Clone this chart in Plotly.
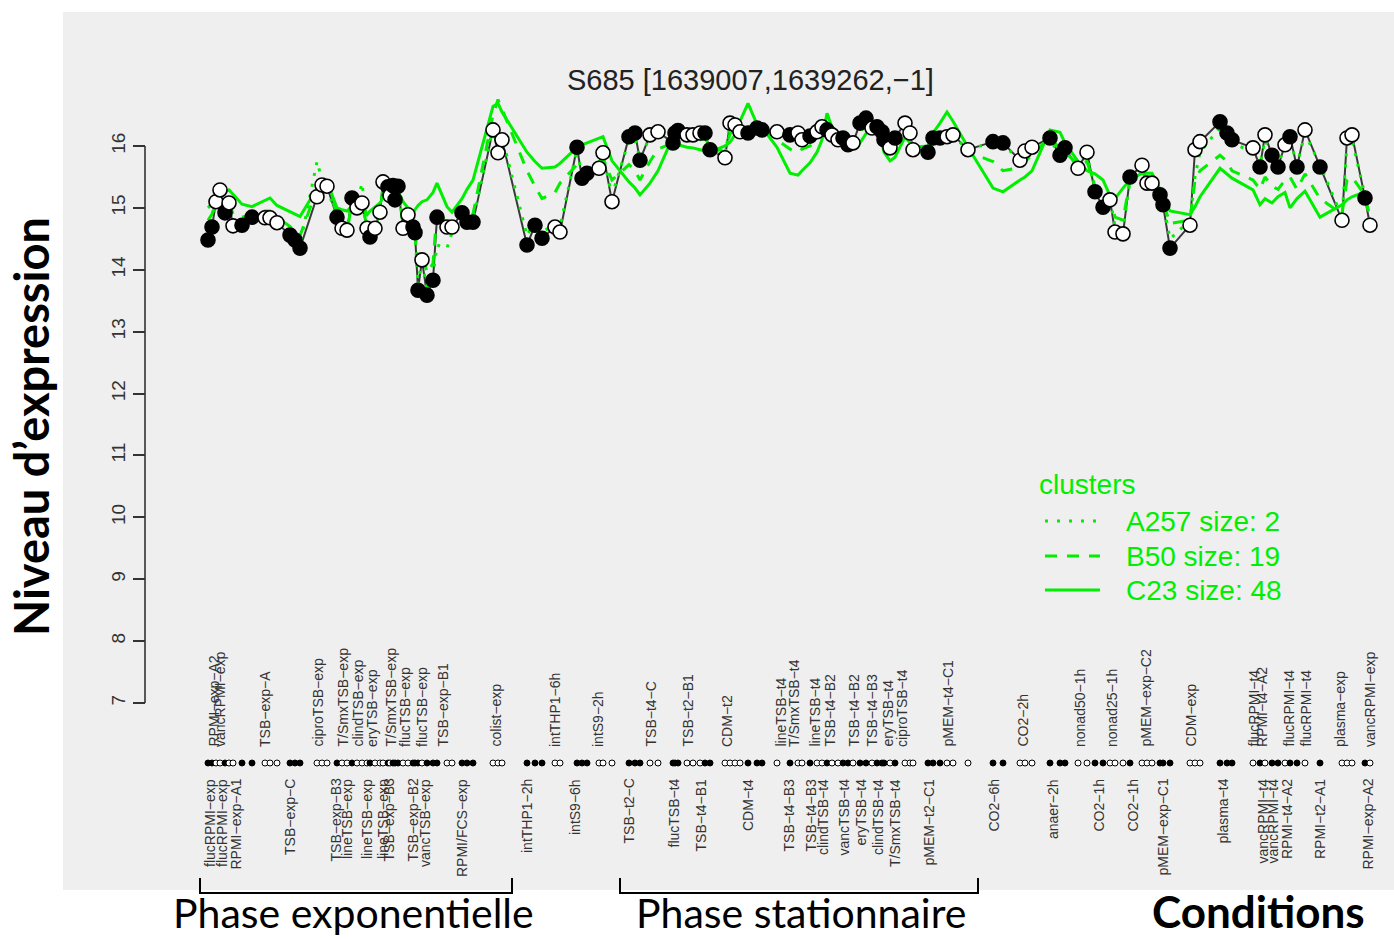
import plotly.graph_objects as go

# ---------------- data ----------------
# position of each sample along the condition axis
sample_pos = [
    208, 212, 216, 220, 225, 229, 233, 242, 252, 265, 270, 277, 290, 295, 300,
    317, 322, 327,
    337, 342, 347, 352, 357, 362, 367, 370, 375, 380, 383, 388, 390, 393, 395, 398,
    403, 408, 413, 415, 418, 422, 427, 433, 437, 447, 452, 462, 467, 473,
    493, 498, 502,
    527, 535, 542, 555, 560,
    577, 582, 587, 599, 603, 612,
    629, 635, 640, 650, 658,
    673, 675, 678, 687, 693, 700, 705, 710, 725, 730, 735, 740, 748, 757, 762,
    777, 790, 798, 802, 810, 817, 822, 827, 832, 838, 843, 848, 853, 860, 866,
    872, 877, 882, 884, 890, 895, 905, 910, 913, 928, 933, 940, 947, 953, 968,
    993, 1003, 1020, 1025, 1032,
    1050, 1060, 1065, 1078, 1087,
    1095, 1103, 1110, 1115, 1123, 1130, 1142, 1147, 1152, 1160, 1163, 1170,
    1190, 1195, 1200,
    1220, 1227, 1232,
    1253, 1260, 1265, 1272, 1278, 1285, 1290, 1297, 1305, 1320,
    1342, 1347, 1352, 1365, 1370,
]

# expression level of S685 per sample
expr = [
    14.48, 14.69, 15.10, 15.29, 14.92, 15.08, 14.71, 14.72, 14.85, 14.84, 14.84, 14.76, 14.56, 14.48, 14.35,
    15.18, 15.37, 15.35,
    14.85, 14.67, 14.64, 15.16, 15.00, 15.08, 14.67, 14.53, 14.67, 14.93, 15.42, 15.34, 15.20, 15.36, 15.13, 15.35,
    14.67, 14.89, 14.69, 14.60, 13.67, 14.16, 13.59, 13.83, 14.85, 14.69, 14.69, 14.92, 14.77, 14.77,
    16.26, 15.89, 16.10,
    14.40, 14.72, 14.51, 14.69, 14.61,
    15.98, 15.48, 15.56, 15.64, 15.89, 15.10,
    16.15, 16.21, 15.77, 16.18, 16.23,
    16.05, 16.21, 16.25, 16.18, 16.18, 16.21, 16.21, 15.94, 15.81, 16.37, 16.34, 16.23, 16.21, 16.29, 16.26,
    16.23, 16.18, 16.21, 16.10, 16.16, 16.23, 16.31, 16.26, 16.18, 16.10, 16.13, 16.02, 16.05, 16.37, 16.45,
    16.29, 16.31, 16.23, 16.10, 15.97, 16.13, 16.37, 16.21, 15.94, 15.90, 16.13, 16.13, 16.15, 16.18, 15.94,
    16.07, 16.05, 15.77, 15.92, 15.98,
    16.13, 15.85, 15.97, 15.64, 15.90,
    15.26, 15.01, 15.13, 14.61, 14.58, 15.50, 15.69, 15.40, 15.40, 15.21, 15.05, 14.35,
    14.72, 15.94, 16.07,
    16.39, 16.21, 16.10,
    15.97, 15.66, 16.18, 15.85, 15.66, 16.02, 16.15, 15.66, 16.26, 15.66,
    14.80, 16.13, 16.18, 15.16, 14.72,
]

# 1 = filled (black) point, 0 = open (white) point
filled = [
    1, 1, 0, 0, 1, 0, 0, 1, 1, 0, 0, 0, 1, 1, 1,
    0, 0, 0,
    1, 0, 0, 1, 0, 0, 0, 1, 0, 0, 0, 1, 0, 1, 1, 1,
    0, 0, 1, 1, 1, 0, 1, 1, 1, 0, 0, 1, 1, 1,
    0, 0, 0,
    1, 1, 1, 0, 0,
    1, 1, 1, 0, 0, 0,
    1, 1, 1, 0, 0,
    1, 1, 1, 0, 0, 0, 1, 1, 0, 0, 0, 0, 1, 1, 1,
    0, 1, 0, 0, 1, 0, 0, 1, 0, 0, 1, 1, 0, 1, 1,
    0, 1, 1, 1, 0, 1, 0, 0, 0, 1, 1, 1, 0, 0, 0,
    1, 1, 0, 0, 0,
    1, 1, 1, 0, 0,
    1, 1, 0, 0, 0, 1, 0, 0, 0, 1, 1, 1,
    0, 0, 0,
    1, 1, 1,
    0, 1, 0, 1, 1, 0, 1, 1, 0, 1,
    0, 0, 0, 1, 0,
]

# cluster profiles
c23 = [
    15.00, 15.07, 15.14, 15.20, 15.26, 15.29, 15.22, 15.06, 15.02, 15.12, 15.16, 15.04, 14.93, 14.90, 14.86,
    15.30, 15.45, 15.42,
    15.00, 14.97, 14.95, 15.03, 15.10, 15.00, 14.89, 14.95, 15.02, 15.08, 15.16, 15.24, 15.26, 15.28, 15.29, 15.27,
    15.10, 15.00, 14.92, 14.97, 15.04, 15.10, 15.13, 15.25, 15.40, 15.02, 14.93, 15.15, 15.30, 15.45,
    16.64, 16.69, 16.55,
    15.90, 15.75, 15.64, 15.66, 15.72,
    15.98, 16.02, 16.05, 16.12, 16.15, 15.76,
    15.42, 15.32, 15.21, 15.40, 15.60,
    16.15, 16.10, 16.02, 15.98, 15.97, 15.94, 15.92, 15.90, 16.00, 16.06, 16.18, 16.40, 16.69, 16.35, 16.30,
    15.98, 15.56, 15.53, 15.60, 15.73, 15.90, 16.10, 16.53, 16.30, 16.22, 16.18, 16.14, 16.10, 16.05, 16.20,
    16.35, 16.30, 16.05, 15.90, 15.76, 15.82, 16.15, 16.05, 15.98, 16.00, 16.21, 16.37, 16.55, 16.40, 15.98,
    15.32, 15.26, 15.45, 15.50, 15.60,
    16.26, 16.22, 16.05, 15.75, 15.60,
    15.55, 15.45, 15.20, 15.15, 15.32, 15.45, 15.56, 15.56, 15.56, 15.30, 15.15, 14.95,
    14.89, 15.02, 15.18,
    15.64, 15.55, 15.48,
    15.29, 15.05, 15.15, 15.08, 15.18, 15.25, 15.00, 15.15, 15.27, 14.85,
    15.05, 15.13, 15.18, 15.26, 15.20,
]

b50 = [
    14.80, 14.90, 15.10, 15.20, 15.05, 15.10, 14.90, 14.85, 14.90, 14.95, 14.95, 14.85, 14.70, 14.65, 14.55,
    15.30, 15.45, 15.40,
    14.90, 14.70, 14.60, 15.10, 15.00, 15.05, 14.70, 14.55, 14.70, 14.95, 15.35, 15.30, 15.20, 15.30, 15.15, 15.30,
    14.75, 14.90, 14.75, 14.70, 14.00, 14.30, 13.95, 14.10, 14.95, 14.75, 14.70, 14.95, 14.85, 14.90,
    16.50, 16.75, 16.60,
    15.60, 15.35, 15.15, 15.25, 15.40,
    15.70, 15.55, 15.60, 15.75, 15.80, 15.45,
    15.70, 15.60, 15.45, 15.75, 15.95,
    16.05, 16.10, 16.15, 16.10, 16.10, 16.10, 16.12, 16.00, 15.90, 16.20, 16.25, 16.25, 16.30, 16.35, 16.30,
    16.10, 15.95, 15.90, 15.95, 16.00, 16.10, 16.20, 16.30, 16.15, 16.10, 16.05, 16.00, 16.00, 16.25, 16.30,
    16.20, 16.20, 16.10, 16.00, 15.90, 16.00, 16.25, 16.15, 15.95, 15.90, 16.05, 16.10, 16.20, 16.15, 15.90,
    15.75, 15.60, 15.65, 15.75, 15.85,
    16.15, 15.95, 15.90, 15.70, 15.75,
    15.35, 15.15, 15.15, 14.85, 14.80, 15.45, 15.60, 15.45, 15.40, 15.25, 15.10, 14.75,
    14.80, 15.45, 15.60,
    15.85, 15.75, 15.60,
    15.45, 15.30, 15.50, 15.35, 15.30, 15.45, 15.50, 15.30, 15.55, 15.15,
    14.90, 15.45, 15.50, 15.20, 14.85,
]

a257 = [
    14.60, 14.75, 15.15, 15.25, 14.95, 15.05, 14.75, 14.65, 14.80, 14.85, 14.80, 14.75, 14.60, 14.50, 14.40,
    15.75, 15.45, 15.35,
    14.80, 14.65, 14.65, 15.20, 15.05, 15.40, 14.75, 14.55, 14.65, 14.95, 15.40, 15.35, 15.20, 15.35, 15.15, 15.30,
    14.70, 14.90, 14.70, 14.60, 13.75, 14.20, 13.65, 13.90, 14.40, 14.35, 14.60, 14.90, 14.80, 14.80,
    16.30, 15.95, 16.15,
    14.55, 14.80, 14.60, 14.75, 14.70,
    15.95, 15.50, 15.60, 15.65, 15.85, 15.20,
    16.10, 16.10, 15.80, 16.15, 16.20,
    16.05, 16.20, 16.20, 16.15, 16.15, 16.20, 16.20, 15.95, 15.85, 16.35, 16.30, 16.25, 16.20, 16.30, 16.25,
    16.20, 16.15, 16.15, 16.10, 16.15, 16.20, 16.30, 16.25, 16.15, 16.10, 16.10, 16.00, 16.05, 16.35, 16.40,
    16.30, 16.30, 16.20, 16.10, 15.95, 16.10, 16.35, 16.20, 15.95, 15.90, 16.10, 16.10, 16.15, 16.15, 15.95,
    16.05, 16.00, 15.80, 15.90, 15.95,
    16.10, 15.85, 15.95, 15.65, 15.85,
    15.30, 15.05, 15.15, 14.70, 14.65, 15.45, 15.65, 15.40, 15.40, 15.25, 15.10, 14.50,
    14.80, 15.50, 15.90,
    16.30, 16.15, 16.05,
    15.90, 15.70, 16.10, 15.85, 15.70, 16.00, 16.10, 15.70, 16.20, 15.70,
    14.85, 16.05, 16.10, 15.20, 14.80,
]

# condition labels (above and below the sample strip)
top_labels = [
    "RPMI\u2212exp\u2212A2", "vancRPMI\u2212exp", "TSB\u2212exp\u2212A", "ciproTSB\u2212exp",
    "T/SmxTSB\u2212exp", "clindTSB\u2212exp", "eryTSB\u2212exp", "T/SmxTSB\u2212exp",
    "flucTSB\u2212exp", "flucTSB\u2212exp", "TSB\u2212exp\u2212B1", "colist\u2212exp",
    "intTHP1\u22126h", "intS9\u22122h", "TSB\u2212t4\u2212C", "TSB\u2212t2\u2212B1", "CDM\u2212t2",
    "lineTSB\u2212t4", "T/SmxTSB\u2212t4", "lineTSB\u2212t4", "TSB\u2212t4\u2212B2", "TSB\u2212t4\u2212B2",
    "TSB\u2212t4\u2212B3", "eryTSB\u2212t4", "ciproTSB\u2212t4", "pMEM\u2212t4\u2212C1", "CO2\u22122h",
    "nonad50\u22121h", "nonad25\u22121h", "pMEM\u2212exp\u2212C2", "CDM\u2212exp", "flucRPMI\u2212t4",
    "RPMI\u2212t4\u2212A2", "flucRPMI\u2212t4", "flucRPMI\u2212t4", "plasma\u2212exp", "vancRPMI\u2212exp",
]
top_pos = [
    213, 220, 265, 317, 342, 357, 372, 390, 405, 422, 442, 495,
    555, 598, 650, 687, 727, 780, 794, 814, 829, 853, 871, 887, 902, 947, 1022,
    1080, 1112, 1145, 1190, 1253, 1262, 1288, 1305, 1340, 1370,
]
bottom_labels = [
    "flucRPMI\u2212exp", "flucRPMI\u2212exp", "RPMI\u2212exp\u2212A1", "TSB\u2212exp\u2212C",
    "TSB\u2212exp\u2212B3", "lineTSB\u2212exp", "lineTSB\u2212exp", "lineTSB\u2212exp",
    "TSB\u2212exp\u2212B3", "TSB\u2212exp\u2212B2", "vancTSB\u2212exp", "RPMI/FCS\u2212exp",
    "intTHP1\u22122h", "intS9\u22126h", "TSB\u2212t2\u2212C", "flucTSB\u2212t4", "TSB\u2212t4\u2212B1",
    "CDM\u2212t4", "TSB\u2212t4\u2212B3", "TSB\u2212t4\u2212B3", "clindTSB\u2212t4", "vancTSB\u2212t4",
    "eryTSB\u2212t4", "clindTSB\u2212t4", "T/SmxTSB\u2212t4", "pMEM\u2212t2\u2212C1", "CO2\u22126h",
    "anaer\u22122h", "CO2\u22121h", "CO2\u22121h", "pMEM\u2212exp\u2212C1", "plasma\u2212t4",
    "vancRPMI\u2212t4", "vancRPMI\u2212t4", "RPMI\u2212t4\u2212A2", "RPMI\u2212t2\u2212A1", "RPMI\u2212exp\u2212A2",
]
bottom_pos = [
    210, 222, 235, 290, 335, 347, 367, 383, 388, 412, 425, 462,
    527, 575, 628, 673, 700, 748, 788, 810, 823, 843, 860, 878, 895, 928, 993,
    1053, 1098, 1132, 1162, 1222, 1262, 1272, 1287, 1320, 1367,
]

cluster_names = ["A257 size: 2", "B50 size: 19", "C23 size: 48"]
y_ticks = [7, 8, 9, 10, 11, 12, 13, 14, 15, 16]

# ---------------- layout helpers ----------------
W, H = 1394, 940
PL, PR, PT, PB = 63, 1394, 12, 890        # panel edges in px
Y16_PX, Y7_PX = 146, 703                   # pixel rows of ticks 16 and 7
UNIT = (Y7_PX - Y16_PX) / 9.0
Y_LO = 16 - (PB - Y16_PX) / UNIT
Y_HI = 16 + (Y16_PX - PT) / UNIT
ROW_Y = 16 - (763 - Y16_PX) / UNIT


def px_x(p):
    return (p - PL) / (PR - PL)


def px_y(p):
    return (PB - p) / (PB - PT)


GREEN = "#00ee00"
LABEL_FONT = dict(family="Liberation Sans, Arial, sans-serif", size=14, color="#333333")

fig = go.Figure()

# connecting line of the probe
fig.add_trace(go.Scatter(x=sample_pos, y=expr, mode="lines",
                         line=dict(color="#3a3a3a", width=2), hoverinfo="skip"))
# cluster profiles
fig.add_trace(go.Scatter(x=sample_pos, y=c23, mode="lines",
                         line=dict(color=GREEN, width=3), hoverinfo="skip"))
fig.add_trace(go.Scatter(x=sample_pos, y=b50, mode="lines",
                         line=dict(color=GREEN, width=3, dash="12px,10px"), hoverinfo="skip"))
fig.add_trace(go.Scatter(x=sample_pos, y=a257, mode="lines",
                         line=dict(color=GREEN, width=3, dash="3px,8px"), hoverinfo="skip"))

colors = ["black" if f else "white" for f in filled]
fig.add_trace(go.Scatter(x=sample_pos, y=expr, mode="markers",
                         marker=dict(size=14, color=colors, line=dict(color="black", width=1.6))))
# sample strip
fig.add_trace(go.Scatter(x=sample_pos, y=[ROW_Y] * len(sample_pos), mode="markers",
                         marker=dict(size=6, color=colors, line=dict(color="black", width=1)),
                         cliponaxis=False))

annotations = []
for name, p in zip(top_labels, top_pos):
    annotations.append(dict(x=p, y=px_y(749), xref="x", yref="paper", text=name,
                            textangle=-90, showarrow=False, xanchor="center", yanchor="bottom",
                            font=LABEL_FONT))
for name, p in zip(bottom_labels, bottom_pos):
    annotations.append(dict(x=p, y=px_y(777), xref="x", yref="paper", text=name,
                            textangle=-90, showarrow=False, xanchor="center", yanchor="top",
                            font=LABEL_FONT))


def text_at(px, py, text, font, xanchor="center", yanchor="middle", angle=0):
    return dict(x=px_x(px), y=px_y(py), xref="paper", yref="paper", text=text,
                showarrow=False, xanchor=xanchor, yanchor=yanchor, textangle=angle,
                font=font)


# title
annotations.append(text_at(750, 80, "S685 [1639007,1639262,\u22121]",
                           dict(family="Liberation Sans, Arial, sans-serif", size=29, color="#222222")))
# y title
annotations.append(text_at(31, 427, "<b>Niveau d\u2019expression</b>",
                           dict(family="Lato, sans-serif", size=47, color="black"), angle=-90))
# bottom texts
annotations.append(text_at(353, 912, "Phase exponentielle",
                           dict(family="Lato, sans-serif", size=41, color="black")))
annotations.append(text_at(801, 912, "Phase stationnaire",
                           dict(family="Lato, sans-serif", size=41, color="black")))
annotations.append(text_at(1258, 911, "<b>Conditions</b>",
                           dict(family="Lato, sans-serif", size=44, color="black")))

# legend
LEG_FONT = dict(family="Liberation Sans, Arial, sans-serif", size=28, color=GREEN)
annotations.append(text_at(1037, 484, "clusters", LEG_FONT, xanchor="left"))
shapes = []
leg_rows = [521, 556, 590]
leg_dash = ["3px,9px", "12px,10px", "solid"]
for name, row, dsh in zip(cluster_names, leg_rows, leg_dash):
    annotations.append(text_at(1124, row, name, LEG_FONT, xanchor="left"))
    shapes.append(dict(type="line", xref="paper", yref="paper",
                       x0=px_x(1045), x1=px_x(1100), y0=px_y(row), y1=px_y(row),
                       line=dict(color=GREEN, width=3, dash=dsh)))

# y axis line (R style: only over tick range)
shapes.append(dict(type="line", xref="paper", yref="y", x0=px_x(145), x1=px_x(145),
                   y0=min(y_ticks), y1=max(y_ticks), line=dict(color="#333333", width=1.6)))

# phase brackets
for a, b in [(200, 512), (620, 978)]:
    shapes.append(dict(type="path", xref="paper", yref="paper",
                       path=f"M {px_x(a)} {px_y(878)} L {px_x(a)} {px_y(893)} "
                            f"L {px_x(b)} {px_y(893)} L {px_x(b)} {px_y(878)}",
                       line=dict(color="black", width=2)))

fig.update_layout(
    width=W, height=H,
    margin=dict(l=PL, r=W - PR, t=PT, b=H - PB),
    paper_bgcolor="white", plot_bgcolor="#efefef",
    showlegend=False,
    xaxis=dict(range=[PL, PR], visible=False),
    yaxis=dict(range=[Y_LO, Y_HI], anchor="free", position=px_x(145),
               tickvals=y_ticks, ticks="outside", ticklen=12, tickwidth=1.6,
               tickcolor="#333333", tickangle=-90, showgrid=False, zeroline=False,
               showline=False,
               tickfont=dict(family="Liberation Sans, Arial, sans-serif", size=19, color="#333333")),
    annotations=annotations,
    shapes=shapes,
)

fig.write_html("out.html", config={"displayModeBar": False},
               post_script="document.body.style.margin='0px';document.body.style.padding='0px';")
